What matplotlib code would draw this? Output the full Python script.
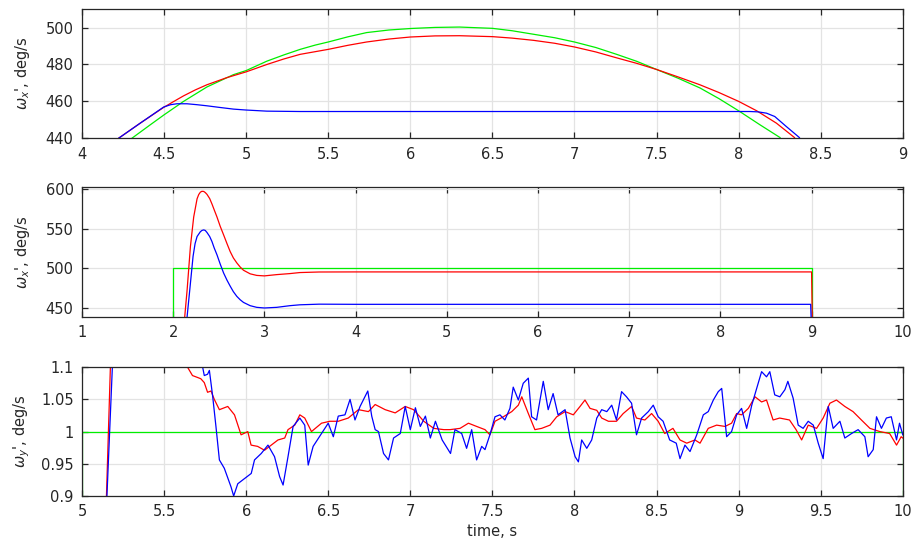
import matplotlib
matplotlib.use("Agg")
import matplotlib.pyplot as plt

# ---- panel 1: omega_x tracking a smooth reference (4..9 s)
t1_ref = [4.20, 4.304, 4.416, 4.50, 4.619, 4.761, 4.923, 5.0, 5.126, 5.23, 5.329, 5.42, 5.5, 5.62,
          5.734, 5.87, 6.0, 6.15, 6.30, 6.5, 6.62, 6.75, 6.88, 7.0, 7.13, 7.257, 7.38, 7.5, 7.63,
          7.764, 7.88, 8.0, 8.13, 8.252, 8.32]
w1_ref = [430.0, 440.0, 447.3, 452.7, 460.0, 467.8, 474.5, 476.7, 481.8, 485.2, 488.2, 490.5, 492.2,
          495.0, 497.3, 498.7, 499.5, 500.1, 500.3, 499.6, 498.3, 496.4, 494.5, 492.2, 489.2, 485.5,
          481.7, 477.3, 472.6, 467.3, 461.5, 454.9, 447.3, 440.4, 430.0]
t1_red = [4.15, 4.223, 4.355, 4.497, 4.56, 4.619, 4.69, 4.761, 4.88, 5.0, 5.126, 5.23, 5.329, 5.5,
          5.62, 5.734, 5.87, 6.0, 6.15, 6.3, 6.5, 6.62, 6.75, 6.88, 7.0, 7.13, 7.257, 7.38, 7.5,
          7.63, 7.764, 7.88, 8.0, 8.11, 8.23, 8.34, 8.40]
w1_red = [430.0, 440.0, 448.2, 456.7, 460.0, 463.0, 466.2, 469.0, 472.8, 476.0, 480.0, 483.0, 485.5,
          488.2, 490.4, 492.2, 493.8, 494.9, 495.5, 495.6, 495.1, 494.3, 493.1, 491.5, 489.5, 486.8,
          483.6, 480.6, 477.3, 473.3, 469.0, 464.8, 460.0, 454.9, 448.2, 440.4, 430.0]
t1_blue = [4.15, 4.223, 4.355, 4.497, 4.54, 4.578, 4.639, 4.70, 4.761, 4.84, 4.923, 5.0, 5.126,
           5.329, 6.0, 7.0, 8.07, 8.12, 8.17, 8.22, 8.29, 8.37, 8.43]
w1_blue = [430.0, 440.0, 448.2, 456.9, 458.2, 458.7, 458.7, 458.2, 457.6, 456.7, 455.8, 455.3, 454.7,
           454.5, 454.5, 454.5, 454.5, 454.3, 453.6, 451.8, 446.4, 440.4, 430.0]

# ---- panel 2: step response (1..10 s)
t2_ref = [1.0, 2.0, 2.0, 9.0, 9.0, 10.0]
w2_ref = [0.0, 0.0, 500.0, 500.0, 0.0, 0.0]
t2_red = [2.11, 2.127, 2.153, 2.189, 2.225, 2.262, 2.28, 2.298, 2.315, 2.335, 2.352, 2.371, 2.40,
          2.425, 2.45, 2.48, 2.515, 2.553, 2.59, 2.625, 2.66, 2.698, 2.735, 2.771, 2.844, 2.916,
          3.0, 3.135, 3.28, 3.389, 3.6, 4.0, 5.0, 9.0, 9.01]
w2_red = [420.0, 439.6, 473.0, 527.5, 564.6, 587.5, 592.8, 595.8, 596.9, 596.7, 595.3, 593.0, 587.8,
          581.0, 573.5, 564.6, 553.0, 542.0, 531.0, 521.0, 513.0, 506.7, 501.5, 497.5, 493.0, 491.0,
          490.4, 492.0, 493.3, 494.6, 495.3, 495.4, 495.4, 495.4, 420.0]
t2_blue = [2.14, 2.153, 2.182, 2.218, 2.24, 2.262, 2.298, 2.315, 2.335, 2.352, 2.371, 2.40, 2.425,
           2.45, 2.48, 2.515, 2.553, 2.59, 2.625, 2.66, 2.698, 2.735, 2.771, 2.844, 2.916, 3.0,
           3.135, 3.28, 3.389, 3.6, 4.0, 5.0, 8.99, 9.0]
w2_blue = [420.0, 439.6, 473.0, 515.0, 531.0, 540.0, 546.0, 547.6, 548.3, 547.6, 545.0, 540.0, 533.7,
           525.5, 517.0, 505.5, 494.0, 485.0, 477.5, 470.5, 464.6, 460.3, 457.0, 452.9, 450.8, 450.0,
           450.8, 452.9, 454.0, 454.8, 454.6, 454.6, 454.6, 420.0]

# ---- panel 3: omega_y with noise (5..10 s)
t3_ref = [5.0, 5.0, 10.0, 10.0]
w3_ref = [0.0, 1.0, 1.0, 0.0]
t3_red = [5.12, 5.149, 5.173, 5.19, 5.62, 5.643, 5.673, 5.704, 5.724, 5.745, 5.765, 5.786, 5.806, 5.837,
          5.888, 5.929, 5.969, 6.01, 6.03, 6.07, 6.112, 6.153, 6.194, 6.235, 6.255, 6.296, 6.327,
          6.357, 6.398, 6.459, 6.51, 6.561, 6.622, 6.684, 6.745, 6.786, 6.847, 6.908, 6.969, 7.02,
          7.082, 7.143, 7.204, 7.242, 7.303, 7.354, 7.404, 7.455, 7.485, 7.516, 7.567, 7.618, 7.658,
          7.679, 7.719, 7.759, 7.8, 7.851, 7.892, 7.943, 7.993, 8.034, 8.064, 8.095, 8.136, 8.166,
          8.207, 8.256, 8.297, 8.348, 8.378, 8.429, 8.47, 8.51, 8.55, 8.60, 8.643, 8.684, 8.734,
          8.765, 8.815, 8.866, 8.917, 8.957, 8.988, 9.018, 9.059, 9.1, 9.14, 9.17, 9.21, 9.25, 9.31,
          9.35, 9.384, 9.424, 9.475, 9.515, 9.556, 9.596, 9.647, 9.697, 9.748, 9.8, 9.86, 9.92,
          9.962, 9.99, 10.0]
w3_red = [0.85, 0.9, 1.1, 1.3, 1.3, 1.100, 1.087, 1.084, 1.082, 1.076, 1.061, 1.063, 1.050, 1.034,
          1.039, 1.026, 0.995, 1.0, 0.979, 0.977, 0.971, 0.979, 0.987, 0.990, 1.003, 1.010, 1.026,
          1.021, 1.0, 1.013, 1.016, 1.016, 1.021, 1.034, 1.031, 1.042, 1.034, 1.029, 1.039, 1.034,
          1.016, 1.005, 1.003, 1.003, 1.005, 1.013, 1.008, 1.003, 0.995, 1.016, 1.023, 1.031, 1.041,
          1.054, 1.028, 1.003, 1.005, 1.010, 1.023, 1.031, 1.026, 1.039, 1.049, 1.036, 1.033, 1.021,
          1.016, 1.016, 1.028, 1.039, 1.021, 1.018, 1.028, 1.016, 0.997, 1.005, 0.987, 0.982, 0.987,
          0.982, 1.005, 1.010, 1.008, 1.013, 1.028, 1.026, 1.036, 1.054, 1.046, 1.049, 1.018, 1.021,
          1.018, 1.003, 0.987, 1.010, 1.005, 1.021, 1.044, 1.049, 1.039, 1.031, 1.018, 1.005, 1.0,
          0.997, 0.979, 0.992, 0.99]
t3_blue = [5.12, 5.152, 5.185, 5.20, 5.72, 5.735, 5.745, 5.765, 5.776, 5.796, 5.816, 5.837, 5.867,
           5.908, 5.924, 5.949, 5.990, 6.031, 6.051, 6.092, 6.133, 6.173, 6.204, 6.225, 6.255, 6.286,
           6.327, 6.357, 6.378, 6.408, 6.459, 6.5, 6.531, 6.561, 6.602, 6.633, 6.663, 6.694, 6.741,
           6.765, 6.786, 6.806, 6.837, 6.867, 6.898, 6.939, 6.969, 7.0, 7.031, 7.061, 7.092, 7.122,
           7.153, 7.194, 7.245, 7.272, 7.313, 7.343, 7.374, 7.404, 7.435, 7.455, 7.485, 7.516,
           7.546, 7.576, 7.607, 7.627, 7.658, 7.688, 7.719, 7.739, 7.769, 7.810, 7.84, 7.87, 7.9,
           7.943, 7.973, 8.004, 8.024, 8.044, 8.075, 8.105, 8.136, 8.166, 8.197, 8.227, 8.256, 8.287,
           8.317, 8.348, 8.378, 8.409, 8.45, 8.48, 8.51, 8.54, 8.58, 8.62, 8.643, 8.673, 8.704,
           8.745, 8.785, 8.815, 8.846, 8.876, 8.897, 8.927, 8.957, 8.988, 9.018, 9.049, 9.08, 9.11,
           9.14, 9.17, 9.19, 9.22, 9.251, 9.282, 9.30, 9.332, 9.363, 9.393, 9.424, 9.455, 9.485,
           9.515, 9.546, 9.576, 9.617, 9.647, 9.688, 9.728, 9.769, 9.789, 9.82, 9.84, 9.87, 9.9,
           9.93, 9.962, 9.98, 10.0]
w3_blue = [0.85, 0.9, 1.1, 1.3, 1.3, 1.100, 1.087, 1.089, 1.095, 1.055, 1.008, 0.956, 0.943,
           0.914, 0.900, 0.919, 0.927, 0.935, 0.956, 0.966, 0.979, 0.961, 0.930, 0.917, 0.961, 1.008,
           1.021, 1.010, 0.948, 0.977, 0.997, 1.013, 0.992, 1.024, 1.026, 1.050, 1.018, 1.039, 1.063,
           1.024, 1.003, 1.0, 0.966, 0.956, 0.990, 0.997, 1.039, 1.003, 1.037, 1.008, 1.024, 0.990,
           1.016, 0.987, 0.966, 1.003, 0.997, 0.974, 1.003, 0.956, 0.977, 0.972, 0.995, 1.023,
           1.026, 1.018, 1.036, 1.069, 1.049, 1.075, 1.083, 1.023, 1.018, 1.078, 1.034, 1.059, 1.026,
           1.034, 0.990, 0.961, 0.953, 0.987, 0.974, 0.987, 1.021, 1.034, 1.031, 1.041, 1.018, 1.062,
           1.054, 1.044, 0.995, 1.021, 1.031, 1.041, 1.023, 1.016, 0.987, 0.982, 0.958, 0.979, 0.969,
           0.995, 1.026, 1.031, 1.049, 1.062, 1.067, 0.992, 1.0, 1.026, 1.036, 1.005, 1.041, 1.067,
           1.093, 1.085, 1.093, 1.057, 1.054, 1.065, 1.078, 1.052, 1.010, 1.005, 1.016, 1.010, 0.982,
           0.958, 1.039, 1.005, 1.016, 0.990, 0.997, 1.003, 0.992, 0.961, 0.972, 1.023, 1.005, 1.021,
           1.023, 0.987, 1.013, 0.995]

RED, BLUE, GREEN = "#ff0000", "#0000ff", "#00ee00"
TXT = "#262626"

plt.rcParams["font.family"] = ["DejaVu Sans"]
plt.rcParams["font.size"] = 10.5
plt.rcParams["mathtext.fontset"] = "dejavusans"

fig = plt.figure(figsize=(9.13, 5.39), dpi=100)

panels = [
    dict(pos=[0.0898, 0.7435, 0.8990, 0.2395], xlim=(4, 9), ylim=(440, 510),
         xt=[4, 4.5, 5, 5.5, 6, 6.5, 7, 7.5, 8, 8.5, 9],
         xl=["4", "4.5", "5", "5.5", "6", "6.5", "7", "7.5", "8", "8.5", "9"],
         yt=[440, 460, 480, 500], yl=["440", "460", "480", "500"],
         lines=[(t1_ref, w1_ref, GREEN), (t1_red, w1_red, RED), (t1_blue, w1_blue, BLUE)],
         ylabel=r"$\omega_x$', deg/s"),
    dict(pos=[0.0898, 0.4124, 0.8990, 0.2402], xlim=(1, 10), ylim=(439, 602),
         xt=list(range(1, 11)), xl=[str(v) for v in range(1, 11)],
         yt=[450, 500, 550, 600], yl=["450", "500", "550", "600"],
         lines=[(t2_ref, w2_ref, GREEN), (t2_red, w2_red, RED), (t2_blue, w2_blue, BLUE)],
         ylabel=r"$\omega_x$', deg/s"),
    dict(pos=[0.0898, 0.0798, 0.8990, 0.2390], xlim=(5, 10), ylim=(0.9, 1.1),
         xt=[5, 5.5, 6, 6.5, 7, 7.5, 8, 8.5, 9, 9.5, 10],
         xl=["5", "5.5", "6", "6.5", "7", "7.5", "8", "8.5", "9", "9.5", "10"],
         yt=[0.9, 0.95, 1.0, 1.05, 1.1], yl=["0.9", "0.95", "1", "1.05", "1.1"],
         lines=[(t3_ref, w3_ref, GREEN), (t3_red, w3_red, RED), (t3_blue, w3_blue, BLUE)],
         ylabel=r"$\omega_y$', deg/s"),
]

for p in panels:
    ax = fig.add_axes(p["pos"])
    for t, w, c in p["lines"]:
        ax.plot(t, w, color=c, lw=0.9)
    ax.set_xlim(*p["xlim"])
    ax.set_ylim(*p["ylim"])
    ax.set_xticks(p["xt"])
    ax.set_xticklabels(p["xl"])
    ax.set_yticks(p["yt"])
    ax.set_yticklabels(p["yl"])
    ax.grid(True, color="#e3e3e3", lw=0.9)
    ax.set_axisbelow(True)
    ax.tick_params(direction="in", length=4, width=0.9, top=True, right=True,
                   colors=TXT, labelcolor=TXT, pad=6)
    for s in ax.spines.values():
        s.set_color(TXT)
        s.set_linewidth(0.9)
    ax.set_ylabel(p["ylabel"], color=TXT)
    ax.yaxis.set_label_coords(-0.061, 0.5)

ax.set_xlabel("time, s", color=TXT)
ax.xaxis.set_label_coords(0.5, -0.22)

fig.savefig("out.png", dpi=100)
